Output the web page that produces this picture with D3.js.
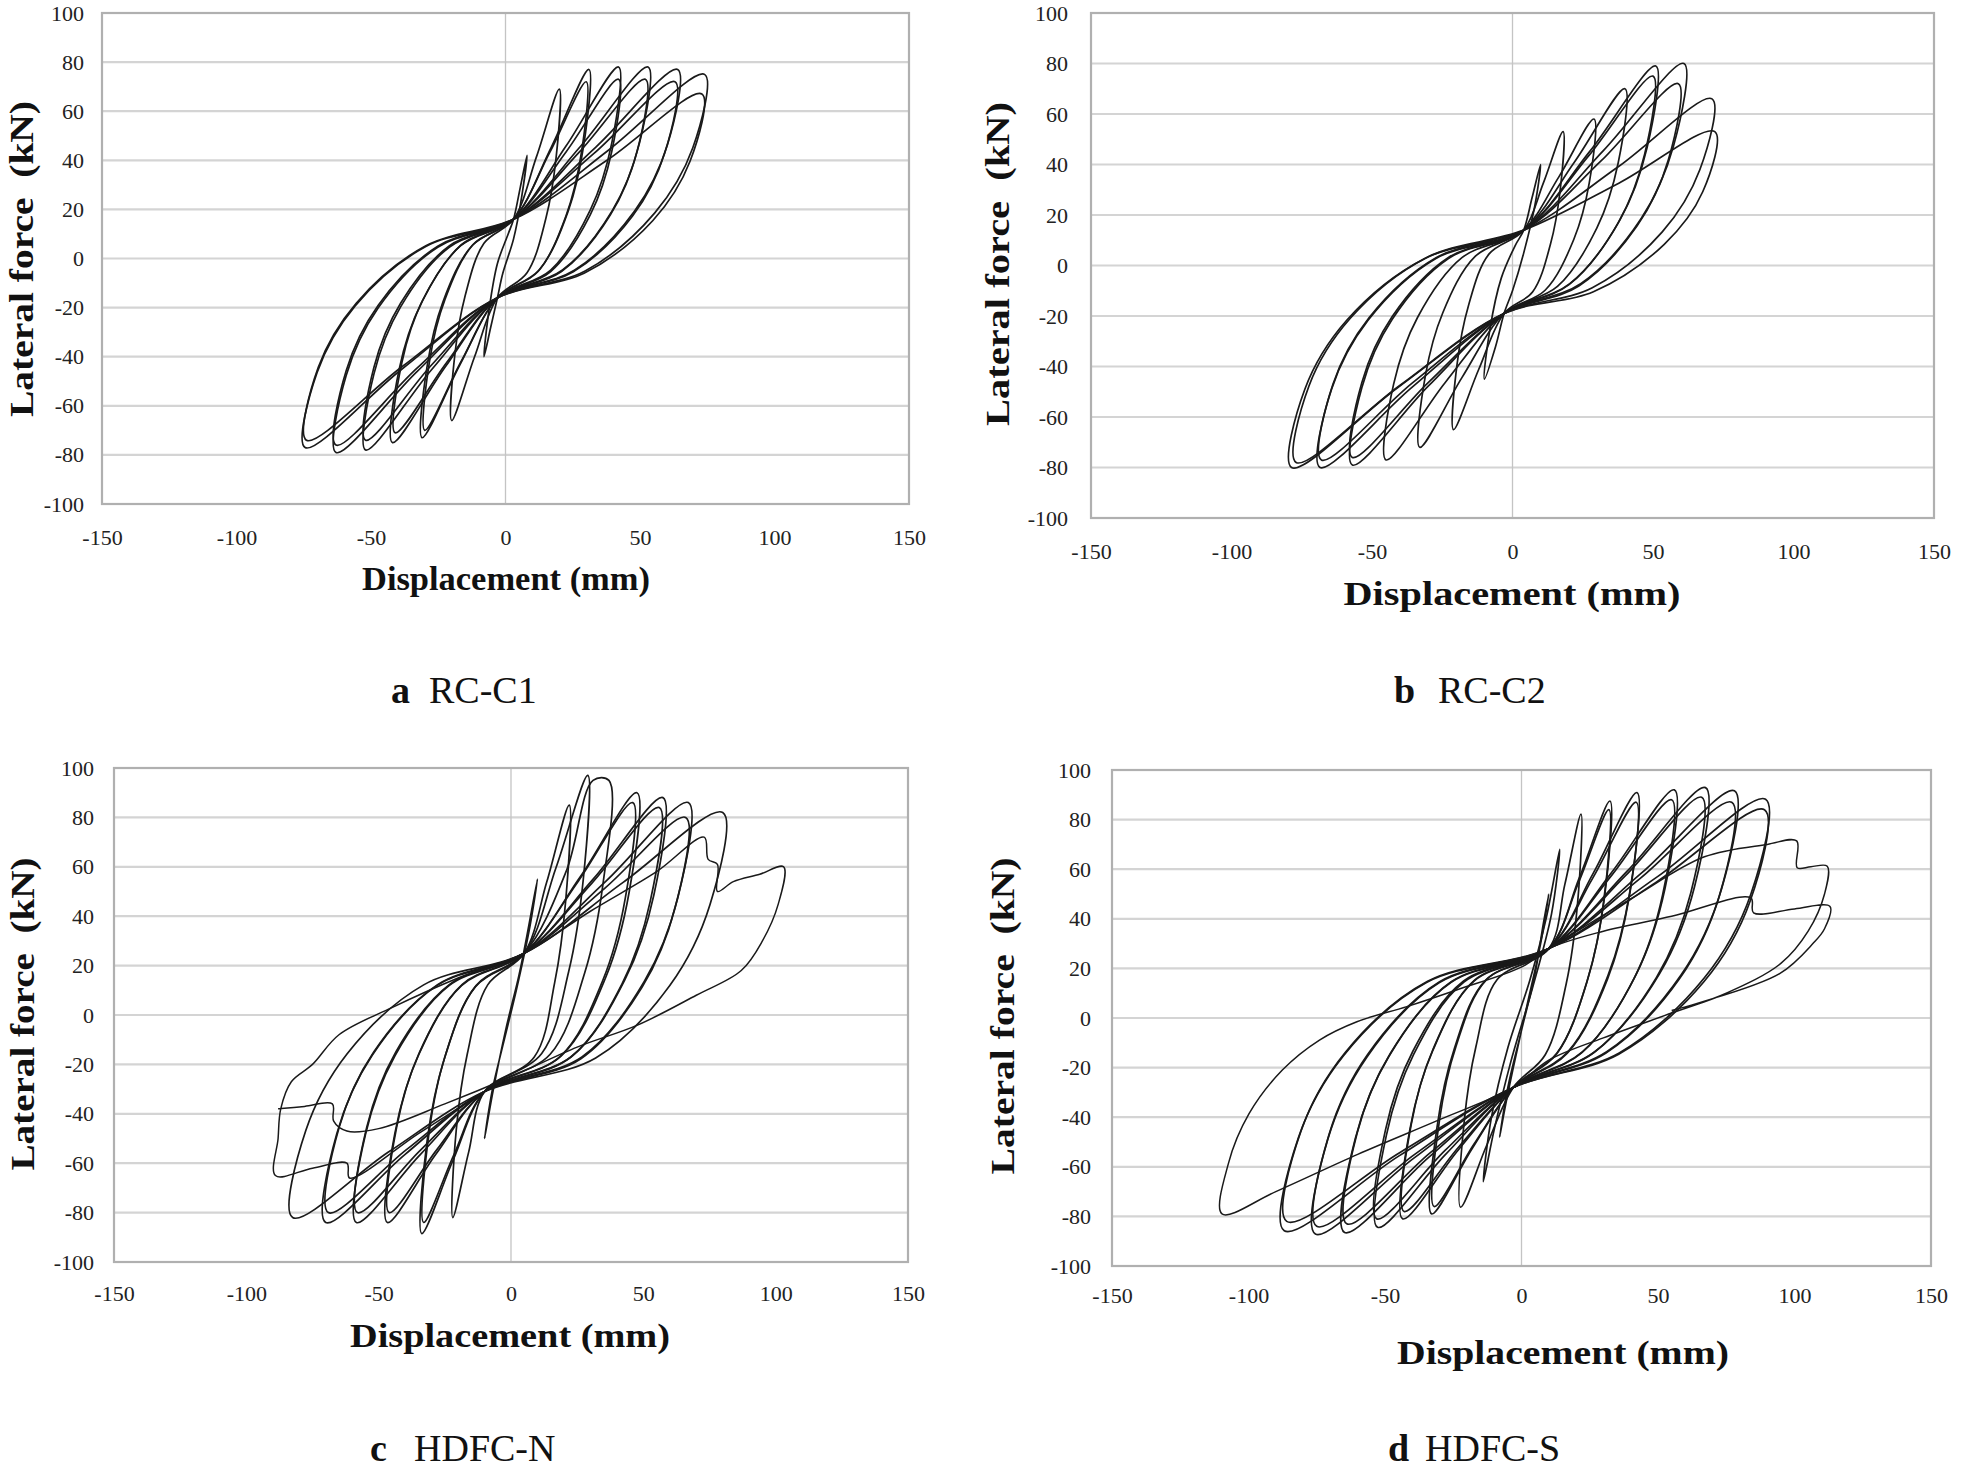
<!DOCTYPE html>
<html><head><meta charset="utf-8">
<script src="https://cdn.jsdelivr.net/npm/d3@7"></script>
<style>body{margin:0;background:#fff;} svg{display:block;} text{white-space:pre;}</style>
</head><body>
<svg id="chart" width="1961" height="1472"></svg>
<script>
// ---------- data ----------
const xTicks = [-150, -100, -50, 0, 50, 100, 150];
const yTicks = [-100, -80, -60, -40, -20, 0, 20, 40, 60, 80, 100];
const panelLetters = ["a", "b", "c", "d"];
const panelNames = ["RC-C1", "RC-C2", "HDFC-N", "HDFC-S"];
const xTitle = "Displacement (mm)";
const yTitle = "Lateral force  (kN)";

// closed hysteresis loops [displacement mm, force kN]
const loopsA = [
 [[-8,-40],[-6,-20],[-3,-2],[1,10],[3,16],[5.5,29],[8,42],[6,25],[3,8],[-1,-6],[-3,-16],[-5.5,-28]],
 [[-20,-66],[-18.8,-38.9],[-15,-15.2],[-8,6.2],[3,16],[11.5,41.4],[20,69],[18.8,41],[15,16.3],[8,-5.8],[-3,-16],[-11.5,-40]],
 [[-31,-73],[-29.1,-43.6],[-23.3,-17.8],[-12.4,5.3],[3,16],[17,45.3],[31,77],[29.1,46.3],[23.3,19.3],[12.4,-4.8],[-3,-16],[-17,-43.4]],
 [[-30,-70],[-28.2,-41.6],[-22.5,-16.7],[-12,5.7],[3,16],[16.5,43.3],[30,72],[28.2,43],[22.5,17.4],[12,-5.4],[-3,-16],[-16.5,-41.9]],
 [[-42,-75],[-39.5,-45],[-31.5,-18.6],[-16.8,5.1],[3,16],[22.5,45.8],[42,78],[39.5,47],[31.5,19.7],[16.8,-4.7],[-3,-16],[-22.5,-44.3]],
 [[-41,-71],[-38.5,-42.3],[-30.8,-17.1],[-16.4,5.6],[3,16],[22.5,43.4],[42,73],[39.5,43.6],[31.5,17.8],[16.8,-5.3],[-3,-16],[-22,-42.6]],
 [[-52,-78],[-48.9,-47],[-39,-19.7],[-20.8,4.7],[3,16],[28,45.8],[53,78],[49.8,47],[39.8,19.7],[21.2,-4.7],[-3,-16],[-27.5,-45.3]],
 [[-52,-74],[-48.9,-44.3],[-39,-18.2],[-20.8,5.2],[3,16],[27.5,43.4],[52,73],[48.9,43.6],[39,17.8],[20.8,-5.3],[-3,-16],[-27.5,-43.4]],
 [[-63,-79],[-59.2,-47.6],[-47.3,-20.1],[-25.2,4.6],[3,16],[33.5,45.3],[64,77],[60.2,46.3],[48,19.3],[25.6,-4.8],[-3,-16],[-33,-46.2]],
 [[-63,-76],[-59.2,-45.6],[-47.3,-19],[-25.2,5],[3,16],[33,42.9],[63,72],[59.2,43],[47.3,17.4],[25.2,-5.4],[-3,-16],[-33,-44.8]],
 [[-74.5,-77],[-70,-46.3],[-55.9,-19.3],[-29.8,4.8],[3,16],[38.5,44.3],[74,75],[69.6,45],[55.5,18.6],[29.6,-5.1],[-3,-16],[-38.8,-45.3]],
 [[-74,-74],[-69.6,-44.3],[-55.5,-18.2],[-29.6,5.2],[3,16],[38,40.2],[73,67],[68.6,39.6],[54.8,15.5],[29.2,-6],[-3,-16],[-38.5,-44.1]]
];
const loopsB = [
 [[-10,-45],[-8,-25],[-4,-5],[1,8],[4,14],[7,27],[10,40],[8,24],[4,5],[0,-10],[-3,-19],[-6,-32]],
 [[-21,-65],[-19.7,-38.9],[-15.7,-16],[-8.4,4.5],[4,14],[11,32.7],[18,53],[16.9,29.2],[13.5,8.4],[7.2,-10.4],[-3,-19],[-12,-41.1]],
 [[-33,-72],[-31,-43.6],[-24.8,-18.7],[-13.2,3.7],[4,14],[16.5,35.1],[29,58],[27.3,32.6],[21.8,10.3],[11.6,-9.8],[-3,-19],[-18,-44.4]],
 [[-45,-77],[-42.3,-47],[-33.8,-20.6],[-18,3.1],[4,14],[22,40.9],[40,70],[37.6,40.6],[30,14.8],[16,-8.3],[-3,-19],[-24,-46.4]],
 [[-57,-79],[-53.6,-48.3],[-42.8,-21.3],[-22.8,2.8],[4,14],[27.5,45.2],[51,79],[47.9,46.7],[38.3,18.2],[20.4,-7.2],[-3,-19],[-30,-47.8]],
 [[-57,-76],[-53.6,-46.3],[-42.8,-20.2],[-22.8,3.2],[4,14],[27,43.3],[50,75],[47,44],[37.5,16.7],[20,-7.7],[-3,-19],[-30,-46.4]],
 [[-68.5,-80],[-64.4,-49],[-51.4,-21.7],[-27.4,2.7],[4,14],[32.5,45.7],[61,80],[57.3,47.3],[45.8,18.6],[24.4,-7.1],[-3,-19],[-35.8,-48.3]],
 [[-68,-77],[-63.9,-47],[-51,-20.6],[-27.2,3.1],[4,14],[31.5,41.4],[59,72],[55.5,42],[44.3,15.6],[23.6,-8.1],[-3,-19],[-35.5,-46.4]],
 [[-78.6,-80],[-73.9,-49],[-59,-21.7],[-31.4,2.7],[4,14],[37.5,39],[71,66],[66.7,38],[53.3,13.3],[28.4,-8.8],[-3,-19],[-40.8,-48.3]],
 [[-77,-78],[-72.4,-47.6],[-57.8,-21],[-30.8,3],[4,14],[38,32.7],[72,53],[67.7,29.2],[54,8.4],[28.8,-10.4],[-3,-19],[-40,-47.4]]
];
const loopsC = [
 [[-10,-50],[-7,-32],[-2,-6],[3,16],[6,32],[10,55],[7,35],[2,10],[-3,-12],[-7,-30]],
 [[-22,-82],[-20.7,-46.7],[-16.5,-15.7],[-8.8,12.2],[5,25],[13.5,53.8],[22,85],[20.7,46.7],[16.5,13.1],[8.8,-17],[-10,-31],[-16,-55.5]],
 [[-33.7,-88.5],[-31.7,-51],[-25.3,-18.1],[-13.5,11.4],[5,25],[17,59.6],[29,97],[27.3,54.8],[21.8,17.6],[11.6,-15.6],[-10,-31],[-21.9,-58.8]],
 [[-33,-84],[-31,-48],[-24.8,-16.4],[-13.2,11.9],[5,25],[21,58.6],[31,95],[37,95],[34.8,53.4],[27.8,16.9],[14.8,-15.9],[-10,-31],[-21.5,-56.4]],
 [[-46.7,-84],[-43.9,-48],[-35,-16.4],[-18.7,11.9],[5,25],[26.3,56.2],[47.6,90],[44.7,50.1],[35.7,15],[19,-16.5],[-10,-31],[-28.4,-56.4]],
 [[-46,-80],[-43.2,-45.4],[-34.5,-14.9],[-18.4,12.4],[5,25],[25.5,54.3],[46,86],[43.2,47.4],[34.5,13.5],[18.4,-17],[-10,-31],[-28,-54.5]],
 [[-58.4,-84],[-54.9,-48],[-43.8,-16.4],[-23.4,11.9],[5,25],[31.2,55.2],[57.4,88],[54,48.7],[43,14.2],[23,-16.7],[-10,-31],[-34.2,-56.4]],
 [[-58,-80],[-54.5,-45.4],[-43.5,-14.9],[-23.2,12.4],[5,25],[30.5,53.3],[56,84],[52.6,46],[42,12.7],[22.4,-17.2],[-10,-31],[-34,-54.5]],
 [[-70,-84],[-65.8,-48],[-52.5,-16.4],[-28,11.9],[5,25],[36,54.3],[67,86],[63,47.4],[50.3,13.5],[26.8,-17],[-10,-31],[-40,-56.4]],
 [[-69,-80],[-64.9,-45.4],[-51.8,-14.9],[-27.6,12.4],[5,25],[35.5,51.4],[66,80],[62,43.4],[49.5,11.2],[26.4,-17.7],[-10,-31],[-39.5,-54.5]],
 [[-82.5,-82],[-77.5,-46.7],[-61.9,-15.7],[-33,12.2],[5,25],[42.5,53.8],[80,82],[75.2,44.7],[60,11.9],[32,-17.4],[-10,-31],[-46.3,-55.5]]
];
const loopsD = [
 [[-8,-48],[-5,-28],[0,-5],[5,18],[8,38],[10,50],[7,30],[2,5],[-3,-20],[-6,-36]],
 [[-14,-66],[-11,-40],[-5,-12],[3,15],[9,40],[14,68],[11,42],[4,12],[-4,-18],[-10,-45]],
 [[-22.3,-76.3],[-21,-41.9],[-16.7,-11.6],[-8.9,15.5],[10,28],[15.9,54],[21.8,82.2],[20.5,45.8],[16.4,13.9],[8.7,-14.8],[-3,-28],[-12.7,-51.2]],
 [[-32.9,-79],[-30.9,-43.7],[-24.7,-12.7],[-13.2,15.2],[10,28],[21.2,56.6],[32.4,87.5],[30.5,49.4],[24.3,15.9],[13,-14.1],[-3,-28],[-18,-52.5]],
 [[-32,-76],[-30.1,-41.7],[-24,-11.5],[-12.8,15.5],[10,28],[21,54.9],[32,84],[30.1,47],[24,14.6],[12.8,-14.6],[-3,-28],[-17.5,-51]],
 [[-43.5,-81],[-40.9,-45],[-32.6,-13.4],[-17.4,14.9],[10,28],[26.2,58.2],[42.3,90.9],[39.8,51.7],[31.7,17.2],[16.9,-13.7],[-3,-28],[-23.3,-53.4]],
 [[-43,-78],[-40.4,-43],[-32.3,-12.3],[-17.2,15.3],[10,28],[26,56.2],[42,87],[39.5,49],[31.5,15.7],[16.8,-14.2],[-3,-28],[-23,-52]],
 [[-52.7,-84.4],[-49.5,-47.3],[-39.5,-14.7],[-21.1,14.5],[10,28],[33,58.7],[56,92],[52.6,52.4],[42,17.6],[22.4,-13.6],[-3,-28],[-27.9,-55.1]],
 [[-53,-81],[-49.8,-45],[-39.8,-13.4],[-21.2,14.9],[10,28],[32.5,56.8],[55,88],[51.7,49.7],[41.3,16.1],[22,-14.1],[-3,-28],[-28,-53.4]],
 [[-64.8,-86.5],[-60.9,-48.7],[-48.6,-15.5],[-25.9,14.3],[10,28],[38.7,59.2],[67.4,92.9],[63.4,53],[50.6,17.9],[27,-13.5],[-3,-28],[-33.9,-56.1]],
 [[-64,-83],[-60.2,-46.4],[-48,-14.2],[-25.6,14.7],[10,28],[38,57.3],[66,89],[62,50.4],[49.5,16.5],[26.4,-14],[-3,-28],[-33.5,-54.4]],
 [[-75.5,-87.1],[-71,-49.1],[-56.6,-15.7],[-30.2,14.2],[10,28],[44,58.5],[78,91.6],[73.3,52.1],[58.5,17.4],[31.2,-13.6],[-3,-28],[-39.3,-56.4]],
 [[-75,-84],[-70.5,-47],[-56.3,-14.6],[-30,14.6],[10,28],[43.5,56.3],[77,87],[72.4,49],[57.8,15.7],[30.8,-14.2],[-3,-28],[-39,-54.9]],
 [[-86.9,-85.8],[-81.7,-48.2],[-65.2,-15.2],[-34.8,14.3],[10,28],[49.7,56.9],[89.4,88.2],[84,49.9],[67,16.2],[35.8,-14.1],[-3,-28],[-45,-55.7]],
 [[-86,-82],[-80.8,-45.7],[-64.5,-13.8],[-34.4,14.8],[10,28],[49.5,54.9],[89,84],[83.7,47],[66.8,14.6],[35.6,-14.6],[-3,-28],[-44.5,-54.2]]
];
// open (final, degrading) excursions
const pathsA = [];
const pathsB = [];
const pathsC = [
 [[-10,-31],[-35,-48],[-61,-66],[-62,-60],[-75,-62],[-89,-65],[-88,-50],[-87,-38],[-83,-27],[-75,-20],[-65,-8],[-45,3],[-20,15],[5,25],[30,42],[55,58],[73,72],[74.5,63],[78,61],[78,50],[84,54],[94,57],[103,60],[101,45],[95,30],[87,18],[70,8],[48,-4],[25,-13],[0,-25],[-25,-36],[-50,-46],[-62,-47],[-67,-43],[-67.5,-36],[-78,-37],[-88,-38]]
];
const pathsD = [
 [[10,28],[40,48],[67,65],[90,70],[100.8,71.4],[101,60.6],[106,61],[112,61.2],[111,50],[105,35],[95,22],[75,10],[55,2],[30,-8],[10,-17],[-3,-28],[-30,-41],[-60,-55],[-90,-70],[-109.7,-79],[-107.4,-58.8],[-99.8,-38.6],[-87.6,-21],[-74,-8.9],[-60.3,-1.5],[-42,4.6],[-23.8,11.3],[0.5,20.8],[10,28],[30,35],[55,41],[84,48.4],[85,42.4],[100,44],[113,45],[111,36],[106.9,30.2],[94.7,18],[64.3,5.9],[55,3]]
];

const panelLoops = [loopsA, loopsB, loopsC, loopsD];
const panelPaths = [pathsA, pathsB, pathsC, pathsD];

// ---------- layout ----------
const layout = [
 {left:102, right:909, top:13, bottom:504, tickGap:18, xTickY:537, xtX:506, xtY:578, xtLen:288, ytX:21, ytY:259, ytLen:316, capL:391, capN:429, capY:703},
 {left:1091, right:1934, top:13, bottom:518, tickGap:23, xTickY:551, xtX:1512, xtY:593, xtLen:337, ytX:997, ytY:264, ytLen:324, capL:1394, capN:1438, capY:703},
 {left:114, right:908, top:768, bottom:1262, tickGap:20, xTickY:1293, xtX:510, xtY:1335, xtLen:320, ytX:22, ytY:1014, ytLen:313, capL:370, capN:414, capY:1461},
 {left:1112, right:1931, top:770, bottom:1266, tickGap:21, xTickY:1295, xtX:1563, xtY:1352, xtLen:332, ytX:1002, ytY:1016, ytLen:317, capL:1388, capN:1425, capY:1461}
];

const svg = d3.select("#chart");
const serif = "'Liberation Serif','Times New Roman',Times,serif";

layout.forEach((L, i) => {
  const g = svg.append("g");
  const xs = d3.scaleLinear().domain([-150, 150]).range([L.left, L.right]);
  const ys = d3.scaleLinear().domain([-100, 100]).range([L.bottom, L.top]);

  // gridlines
  g.selectAll("line.grid").data(yTicks.filter(t => t > -100 && t < 100)).enter()
    .append("line").attr("class", "grid")
    .attr("x1", L.left).attr("x2", L.right)
    .attr("y1", d => ys(d)).attr("y2", d => ys(d))
    .attr("stroke", "#d4d4d4").attr("stroke-width", 2.2);
  // zero vertical line
  g.append("line").attr("x1", xs(0)).attr("x2", xs(0)).attr("y1", L.top).attr("y2", L.bottom)
    .attr("stroke", "#c4c4c4").attr("stroke-width", 1.3);
  // frame
  g.append("rect").attr("x", L.left).attr("y", L.top)
    .attr("width", L.right - L.left).attr("height", L.bottom - L.top)
    .attr("fill", "none").attr("stroke", "#b0b0b0").attr("stroke-width", 2.2);

  // tick labels via axes (plain hyphen-minus as in the original)
  const fmt = d => String(d);
  const yAxis = d3.axisLeft(ys).tickValues(yTicks).tickFormat(fmt).tickSize(0).tickPadding(L.tickGap);
  const ya = g.append("g").attr("transform", `translate(${L.left},0)`).call(yAxis);
  const xAxis = d3.axisBottom(xs).tickValues(xTicks).tickFormat(fmt).tickSize(0).tickPadding(0);
  const xa = g.append("g").attr("transform", `translate(0,${L.xTickY})`).call(xAxis);
  [ya, xa].forEach(a => {
    a.attr("font-family", null).attr("font-size", null);
    a.select(".domain").remove();
    a.selectAll("text").style("font-family", serif).style("font-size", "22px").attr("fill", "#222");
  });
  xa.selectAll("text").attr("dy", "0.35em").attr("y", 0);

  // curves
  const clipId = "clip" + i;
  svg.append("clipPath").attr("id", clipId).append("rect")
    .attr("x", L.left).attr("y", L.top).attr("width", L.right - L.left).attr("height", L.bottom - L.top);
  const cg = g.append("g").attr("clip-path", `url(#${clipId})`);
  const closed = d3.line().x(d => xs(d[0])).y(d => ys(d[1])).curve(d3.curveCatmullRomClosed.alpha(0.5));
  const open = d3.line().x(d => xs(d[0])).y(d => ys(d[1])).curve(d3.curveCatmullRom.alpha(0.5));
  cg.selectAll("path.loop").data(panelLoops[i]).enter().append("path").attr("class", "loop")
    .attr("d", closed).attr("fill", "none").attr("stroke", "#1a1a1a").attr("stroke-width", 1.7)
    .attr("stroke-linejoin", "round");
  cg.selectAll("path.open").data(panelPaths[i]).enter().append("path").attr("class", "open")
    .attr("d", open).attr("fill", "none").attr("stroke", "#1a1a1a").attr("stroke-width", 1.5)
    .attr("stroke-linejoin", "round");

  // axis titles
  g.append("text").attr("x", L.xtX).attr("y", L.xtY).attr("text-anchor", "middle")
    .attr("dominant-baseline", "central").style("font-family", serif).attr("font-weight", "bold")
    .attr("font-size", 34).attr("fill", "#111")
    .attr("textLength", L.xtLen).attr("lengthAdjust", "spacingAndGlyphs").text(xTitle);
  g.append("text").attr("transform", `translate(${L.ytX},${L.ytY}) rotate(-90)`)
    .attr("text-anchor", "middle").attr("dominant-baseline", "central")
    .style("font-family", serif).attr("font-weight", "bold").attr("font-size", 34).attr("fill", "#111")
    .attr("textLength", L.ytLen).attr("lengthAdjust", "spacingAndGlyphs").text(yTitle);

  // caption
  g.append("text").attr("x", L.capL).attr("y", L.capY).style("font-family", serif)
    .attr("font-weight", "bold").attr("font-size", 38).attr("fill", "#111").text(panelLetters[i]);
  g.append("text").attr("x", L.capN).attr("y", L.capY).style("font-family", serif)
    .attr("font-size", 38).attr("fill", "#111").text(panelNames[i]);
});
</script>
</body></html>
